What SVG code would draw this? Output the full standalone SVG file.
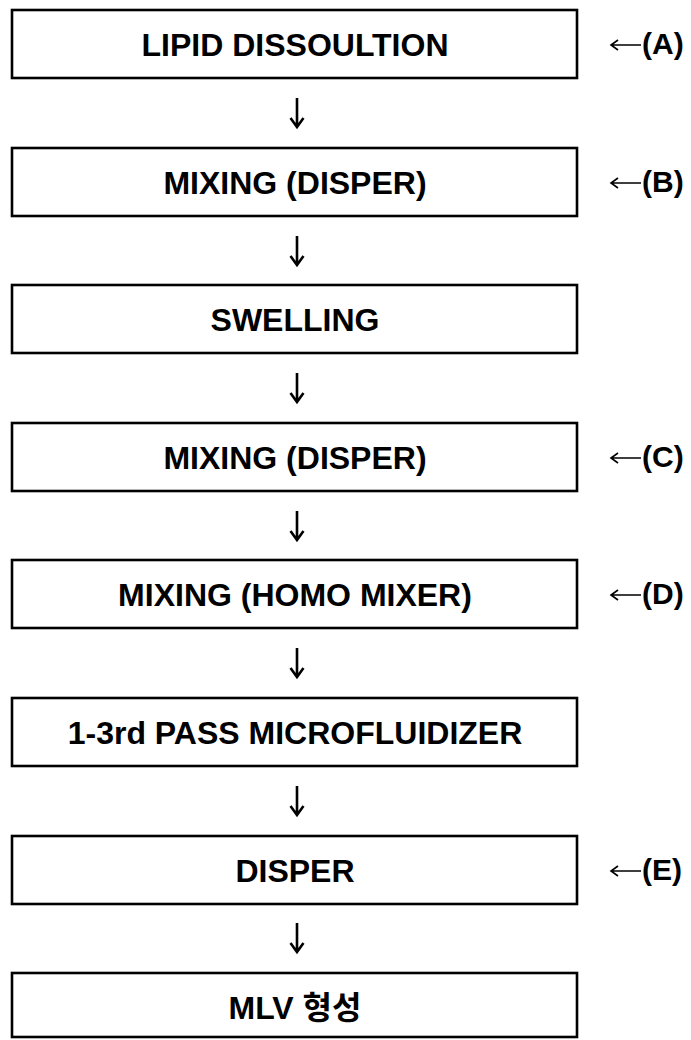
<svg xmlns="http://www.w3.org/2000/svg" width="691" height="1040" viewBox="0 0 691 1040">
<style>
.box{fill:#fff;stroke:#000;stroke-width:2.6}
.t{font-family:"Liberation Sans",Arial,"Noto Sans CJK KR",sans-serif;font-weight:bold;font-size:32px;text-anchor:middle;fill:#000}
.k{font-family:"Noto Sans CJK KR","Liberation Sans",sans-serif;font-weight:bold}
.lbl{font-family:"Liberation Sans",Arial,sans-serif;font-weight:bold;font-size:30px;fill:#000}
.arr{fill:none;stroke:#000;stroke-width:2.6;stroke-linecap:butt}
.side{fill:none;stroke:#000;stroke-width:1.6}
</style>
<rect width="691" height="1040" fill="#fff"/>
<g id="n1"><rect class="box" x="12" y="10" width="565" height="68"/><text class="t" x="295" y="55.5">LIPID DISSOULTION</text></g>
<g id="n2"><rect class="box" x="12" y="148" width="565" height="68"/><text class="t" x="295" y="193.5">MIXING (DISPER)</text></g>
<g id="n3"><rect class="box" x="12" y="285" width="565" height="68"/><text class="t" x="295" y="330.5">SWELLING</text></g>
<g id="n4"><rect class="box" x="12" y="423" width="565" height="68"/><text class="t" x="295" y="468.5">MIXING (DISPER)</text></g>
<g id="n5"><rect class="box" x="12" y="560" width="565" height="68"/><text class="t" x="295" y="605.5">MIXING (HOMO MIXER)</text></g>
<g id="n6"><rect class="box" x="12" y="698" width="565" height="68"/><text class="t" x="295" y="743.5">1-3rd PASS MICROFLUIDIZER</text></g>
<g id="n7"><rect class="box" x="12" y="836" width="565" height="68"/><text class="t" x="295" y="881.5">DISPER</text></g>
<g id="n8"><rect class="box" x="12" y="973" width="565" height="64"/><text class="t" x="295" y="1018.5">MLV <tspan class="k">형성</tspan></text></g>
<g id="connectors">
<path class="arr" d="M297 98V127M290.5 118L297 127L303.5 118"/>
<path class="arr" d="M297 236V265M290.5 256L297 265L303.5 256"/>
<path class="arr" d="M297 373V402M290.5 393L297 402L303.5 393"/>
<path class="arr" d="M297 511V540M290.5 531L297 540L303.5 531"/>
<path class="arr" d="M297 648V677M290.5 668L297 677L303.5 668"/>
<path class="arr" d="M297 786V815M290.5 806L297 815L303.5 806"/>
<path class="arr" d="M297 923V952M290.5 943L297 952L303.5 943"/>
</g>
<g id="labels">
<g id="lA"><path class="side" d="M611 45H641M618 40L611 45L618 50"/><text class="lbl" x="642" y="54">(A)</text></g>
<g id="lB"><path class="side" d="M611 183H641M618 178L611 183L618 188"/><text class="lbl" x="642" y="192">(B)</text></g>
<g id="lC"><path class="side" d="M611 458H641M618 453L611 458L618 463"/><text class="lbl" x="642" y="467">(C)</text></g>
<g id="lD"><path class="side" d="M611 595H641M618 590L611 595L618 600"/><text class="lbl" x="642" y="604">(D)</text></g>
<g id="lE"><path class="side" d="M611 871H641M618 866L611 871L618 876"/><text class="lbl" x="642" y="880">(E)</text></g>
</g>
</svg>
